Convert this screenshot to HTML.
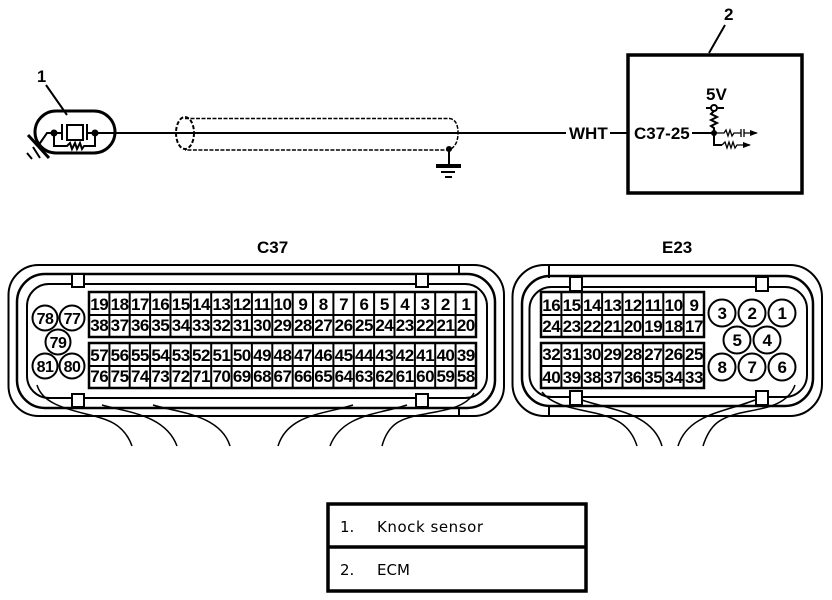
<!DOCTYPE html>
<html><head><meta charset="utf-8"><style>
html,body{margin:0;padding:0;background:#fff}
svg{display:block}
text{font-family:"Liberation Sans",sans-serif;font-weight:bold;fill:#000}
.n text{font-size:17px;text-anchor:middle;letter-spacing:-.5px}
.c text{font-size:16px;text-anchor:middle;letter-spacing:-.5px}
.l{fill:none;stroke:#000;stroke-width:2}
.t{fill:none;stroke:#000;stroke-width:1.3}
.v{fill:none;stroke:#000;stroke-width:1.5}
.o{fill:#fff;stroke:#000;stroke-width:2}
.w{fill:#fff;stroke:#000;stroke-width:2.5}
.g{font-family:"DejaVu Sans",sans-serif;font-weight:normal;font-size:15px}
</style></head><body>
<svg width="832" height="600" viewBox="0 0 832 600" xmlns="http://www.w3.org/2000/svg">
<rect width="832" height="600" fill="#fff"/>
<!-- knock sensor -->
<text x="37" y="82" font-size="16.500">1</text>
<path class="l" d="M46 85L67 115"/>
<rect x="35" y="111" width="80" height="42" rx="21" fill="none" stroke="#000" stroke-width="3"/>
<path class="l" d="M95 133H568"/>
<path class="l" d="M62 124V140M87 124V140M54 133H62M87 133H95"/>
<rect x="67" y="125" width="16" height="15" class="l"/>
<path class="l" d="M54 133V146H67L70 143L72 149L75 143L77 149L80 143L82 149L84 146H95V133M54 133H47L38 146"/>
<circle cx="54" cy="133" r="3.500"/><circle cx="95" cy="133" r="3.500"/>
<path d="M28 135L49 158" stroke="#000" stroke-width="3"/>
<path d="M27 153L32 159M33 147L40 158" stroke="#000" stroke-width="2"/>
<!-- shield -->
<ellipse cx="185" cy="133" rx="9" ry="16" fill="none" stroke="#000" stroke-width="2" stroke-dasharray="4 2"/>
<path d="M185 118.500H450Q458 120 458 133Q458 146 449 150H185" fill="none" stroke="#000" stroke-width="1.500" stroke-dasharray="4 1.500"/>
<circle cx="449" cy="149" r="3"/>
<path class="l" d="M449 149V165"/>
<path d="M436 166H461" stroke="#000" stroke-width="4"/>
<path d="M441 172H455" stroke="#000" stroke-width="2"/>
<path d="M445 177H452" stroke="#000" stroke-width="2"/>
<!-- ECM -->
<rect x="628" y="55" width="174" height="138" fill="none" stroke="#000" stroke-width="3.500"/>
<text x="724" y="20" font-size="17">2</text>
<path class="l" d="M725 25L709 53"/>
<rect x="566" y="120" width="44" height="24" fill="#fff"/>
<text x="569" y="139" font-size="17">WHT</text>
<path class="l" d="M610 133H627"/>
<text x="634" y="139" font-size="17">C37-25</text>
<path class="l" d="M692 133H714"/>
<text x="706" y="100" font-size="17">5V</text>
<path class="l" d="M706 108H711M718 108H724"/>
<circle cx="714" cy="108" r="3" fill="#fff" stroke="#000" stroke-width="2"/>
<path class="l" d="M714 111L711 114L717 117L711 120L717 123L711 126L714 128V145H722"/>
<circle cx="714" cy="133" r="3"/>
<path class="t" d="M714 133H724L726 130L728 136L730 130L732 136L734 133H741M741 129V137M744 129V137M744 133H757"/>
<path d="M750 130L758 133L750 136Z"/>
<path class="t" d="M722 145L725 142L727 148L729 142L731 148L733 142L735 148L737 145H750"/>
<path d="M743 142L751 145L743 148Z"/>
<!-- C37 title -->
<text x="257" y="253" font-size="17">C37</text>
<!-- C37 shell -->
<rect x="8.500" y="265" width="495.500" height="151" rx="30" class="l"/>
<rect x="17" y="274" width="478" height="134" rx="28" fill="none" stroke="#000" stroke-width="2.500"/>
<rect x="27" y="284" width="460" height="114" rx="22" class="l"/>
<path d="M459 265V275M459 407V416" stroke="#000" stroke-width="2"/>
<rect x="72" y="274" width="12" height="13" class="o"/><rect x="416" y="274" width="12" height="13" class="o"/>
<rect x="72" y="394" width="12" height="13" class="o"/><rect x="416" y="394" width="12" height="13" class="o"/>
<!-- C37 wires -->
<path class="v" d="M37 385C42 402 62 408 86 414C108 419 124 424 132 446"/>
<path class="v" d="M102 405C125 412 165 414 177 446"/>
<path class="v" d="M153 405C175 412 220 414 230 446"/>
<path class="v" d="M353 405C325 414 288 414 278 446"/>
<path class="v" d="M407 405C380 414 342 414 330 446"/>
<path class="v" d="M474 393C465 408 445 410 425 414C400 418 388 424 382 446"/>
<!-- C37 grid -->
<rect x="89" y="292" width="387" height="45" class="w"/><path class="l" d="M89 315H476"/>
<rect x="89" y="343" width="387" height="45" class="w"/><path class="l" d="M89 366H476"/>
<path class="l" d="M109.400 292V337M129.700 292V337M150.100 292V337M170.500 292V337M190.800 292V337M211.200 292V337M231.600 292V337M251.900 292V337M272.300 292V337M292.700 292V337M313 292V337M333.400 292V337M353.800 292V337M374.100 292V337M394.500 292V337M414.900 292V337M435.200 292V337M455.600 292V337"/>
<path class="l" d="M109.400 343V388M129.700 343V388M150.100 343V388M170.500 343V388M190.800 343V388M211.200 343V388M231.600 343V388M251.900 343V388M272.300 343V388M292.700 343V388M313 343V388M333.400 343V388M353.800 343V388M374.100 343V388M394.500 343V388M414.900 343V388M435.200 343V388M455.600 343V388"/>
<g class="n">
<text x="99.200" y="310">19</text><text x="119.600" y="310">18</text><text x="139.900" y="310">17</text><text x="160.300" y="310">16</text><text x="180.700" y="310">15</text><text x="201" y="310">14</text><text x="221.400" y="310">13</text><text x="241.800" y="310">12</text><text x="262.100" y="310">11</text><text x="282.500" y="310">10</text><text x="302.900" y="310">9</text><text x="323.200" y="310">8</text><text x="343.600" y="310">7</text><text x="364" y="310">6</text><text x="384.300" y="310">5</text><text x="404.700" y="310">4</text><text x="425.100" y="310">3</text><text x="445.400" y="310">2</text><text x="465.800" y="310">1</text>
<text x="99.200" y="331">38</text><text x="119.600" y="331">37</text><text x="139.900" y="331">36</text><text x="160.300" y="331">35</text><text x="180.700" y="331">34</text><text x="201" y="331">33</text><text x="221.400" y="331">32</text><text x="241.800" y="331">31</text><text x="262.100" y="331">30</text><text x="282.500" y="331">29</text><text x="302.900" y="331">28</text><text x="323.200" y="331">27</text><text x="343.600" y="331">26</text><text x="364" y="331">25</text><text x="384.300" y="331">24</text><text x="404.700" y="331">23</text><text x="425.100" y="331">22</text><text x="445.400" y="331">21</text><text x="465.800" y="331">20</text>
<text x="99.200" y="361">57</text><text x="119.600" y="361">56</text><text x="139.900" y="361">55</text><text x="160.300" y="361">54</text><text x="180.700" y="361">53</text><text x="201" y="361">52</text><text x="221.400" y="361">51</text><text x="241.800" y="361">50</text><text x="262.100" y="361">49</text><text x="282.500" y="361">48</text><text x="302.900" y="361">47</text><text x="323.200" y="361">46</text><text x="343.600" y="361">45</text><text x="364" y="361">44</text><text x="384.300" y="361">43</text><text x="404.700" y="361">42</text><text x="425.100" y="361">41</text><text x="445.400" y="361">40</text><text x="465.800" y="361">39</text>
<text x="99.200" y="382">76</text><text x="119.600" y="382">75</text><text x="139.900" y="382">74</text><text x="160.300" y="382">73</text><text x="180.700" y="382">72</text><text x="201" y="382">71</text><text x="221.400" y="382">70</text><text x="241.800" y="382">69</text><text x="262.100" y="382">68</text><text x="282.500" y="382">67</text><text x="302.900" y="382">66</text><text x="323.200" y="382">65</text><text x="343.600" y="382">64</text><text x="364" y="382">63</text><text x="384.300" y="382">62</text><text x="404.700" y="382">61</text><text x="425.100" y="382">60</text><text x="445.400" y="382">59</text><text x="465.800" y="382">58</text>
</g>
<!-- C37 circles -->
<circle cx="45" cy="318" r="12.500" class="o"/><circle cx="72" cy="318" r="12.500" class="o"/><circle cx="58" cy="342" r="12.500" class="o"/><circle cx="45" cy="366" r="12.500" class="o"/><circle cx="72" cy="366" r="12.500" class="o"/>
<g class="c">
<text x="45" y="324">78</text><text x="72" y="324">77</text><text x="58" y="348">79</text><text x="45" y="372">81</text><text x="72" y="372">80</text>
</g>
<!-- E23 -->
<text x="662" y="253" font-size="17">E23</text>
<rect x="512.500" y="265" width="309.500" height="151" rx="32" class="l"/>
<rect x="522" y="276" width="291" height="130" rx="28" fill="none" stroke="#000" stroke-width="2.500"/>
<rect x="529.500" y="287" width="277.500" height="110" rx="22" class="l"/>
<path d="M549 265V278M549 405V416" stroke="#000" stroke-width="2"/>
<rect x="570" y="277" width="12" height="14" class="o"/><rect x="756" y="277" width="12" height="14" class="o"/>
<rect x="570" y="391" width="12" height="14" class="o"/><rect x="756" y="391" width="12" height="14" class="o"/>
<path class="v" d="M542 392C552 405 572 408 590 412C615 417 630 424 637 446"/>
<path class="v" d="M582 400C610 410 652 412 662 446"/>
<path class="v" d="M755 400C725 412 688 414 678 446"/>
<path class="v" d="M795 385C788 405 765 408 745 412C720 417 710 424 703 446"/>
<rect x="541" y="292" width="163" height="45" class="w"/><path class="l" d="M541 315H704"/>
<rect x="541" y="343" width="163" height="45" class="w"/><path class="l" d="M541 366H704"/>
<path class="l" d="M561.400 292V337M581.800 292V337M602.100 292V337M622.500 292V337M642.900 292V337M663.300 292V337M683.600 292V337M561.400 343V388M581.800 343V388M602.100 343V388M622.500 343V388M642.900 343V388M663.300 343V388M683.600 343V388"/>
<g class="n">
<text x="551.200" y="311">16</text><text x="571.600" y="311">15</text><text x="592" y="311">14</text><text x="612.400" y="311">13</text><text x="632.800" y="311">12</text><text x="653.200" y="311">11</text><text x="673.600" y="311">10</text><text x="694" y="311">9</text>
<text x="551.200" y="332">24</text><text x="571.600" y="332">23</text><text x="592" y="332">22</text><text x="612.400" y="332">21</text><text x="632.800" y="332">20</text><text x="653.200" y="332">19</text><text x="673.600" y="332">18</text><text x="694" y="332">17</text>
<text x="551.200" y="360">32</text><text x="571.600" y="360">31</text><text x="592" y="360">30</text><text x="612.400" y="360">29</text><text x="632.800" y="360">28</text><text x="653.200" y="360">27</text><text x="673.600" y="360">26</text><text x="694" y="360">25</text>
<text x="551.200" y="383">40</text><text x="571.600" y="383">39</text><text x="592" y="383">38</text><text x="612.400" y="383">37</text><text x="632.800" y="383">36</text><text x="653.200" y="383">35</text><text x="673.600" y="383">34</text><text x="694" y="383">33</text>
</g>
<circle cx="722" cy="313" r="13.500" class="o"/><circle cx="752" cy="313" r="13.500" class="o"/><circle cx="782" cy="313" r="13.500" class="o"/><circle cx="737" cy="340" r="13.500" class="o"/><circle cx="767" cy="340" r="13.500" class="o"/><circle cx="722" cy="367" r="13.500" class="o"/><circle cx="752" cy="367" r="13.500" class="o"/><circle cx="782" cy="367" r="13.500" class="o"/>
<g class="n">
<text x="722" y="319">3</text><text x="752" y="319">2</text><text x="782" y="319">1</text><text x="737" y="346">5</text><text x="767" y="346">4</text><text x="722" y="373">8</text><text x="752" y="373">7</text><text x="782" y="373">6</text>
</g>
<!-- legend -->
<rect x="328" y="504" width="258" height="87" fill="none" stroke="#000" stroke-width="3.500"/>
<path d="M328 547H586" stroke="#000" stroke-width="3.500"/>
<text x="340" y="532" class="g">1.</text>
<text x="377" y="532" class="g" textLength="106">Knock sensor</text>
<text x="340" y="575" class="g">2.</text>
<text x="377" y="575" class="g">ECM</text>
</svg>
</body></html>
